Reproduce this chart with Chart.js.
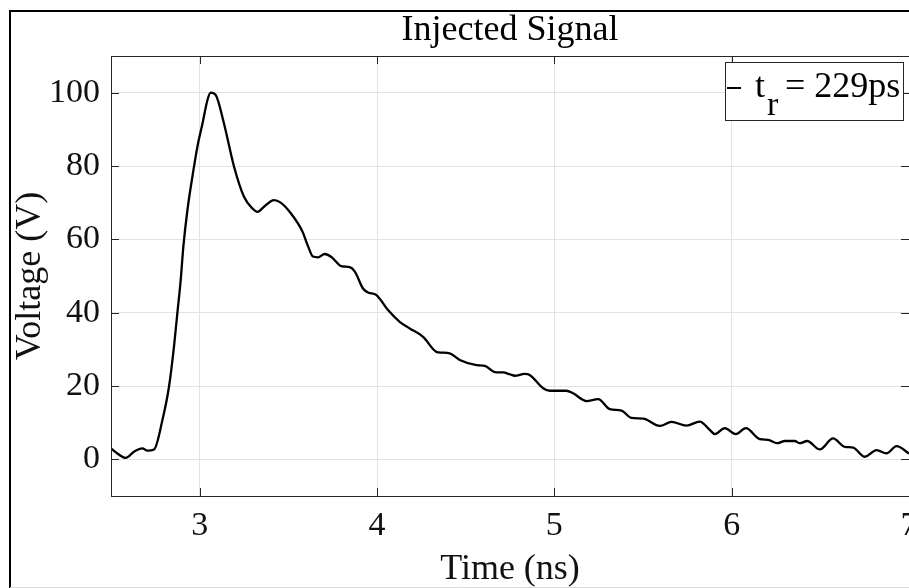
<!DOCTYPE html>
<html>
<head>
<meta charset="utf-8">
<title>Injected Signal</title>
<script src="https://cdn.jsdelivr.net/npm/chart.js@4.4.1/dist/chart.umd.min.js"></script>
<style>
    body { margin: 0; background: #fff; }
    #wrap { width: 909px; height: 588px; }
</style>
</head>
<body>
<div id="wrap"><canvas id="myChart" width="909" height="588"></canvas></div>
<script>
// values
var timeNs = [
    2.500, 2.536, 2.583, 2.630, 2.677, 2.705, 2.743, 2.790, 2.827, 2.855,
    2.874, 2.893, 2.908, 2.931, 2.959, 2.987, 3.016, 3.044, 3.062, 3.091,
    3.137, 3.194, 3.250, 3.298, 3.326, 3.363, 3.419, 3.457, 3.514, 3.580,
    3.612, 3.639, 3.668, 3.705, 3.743, 3.799, 3.846, 3.875, 3.921, 3.950,
    3.997, 4.062, 4.128, 4.185, 4.260, 4.335, 4.363, 4.410, 4.467, 4.561,
    4.608, 4.664, 4.711, 4.749, 4.777, 4.833, 4.861, 4.937, 4.974, 5.068,
    5.106, 5.181, 5.247, 5.313, 5.379, 5.435, 5.501, 5.595, 5.661, 5.745,
    5.820, 5.877, 5.905, 5.961, 6.023, 6.080, 6.159, 6.206, 6.256, 6.300,
    6.356, 6.384, 6.426, 6.497, 6.572, 6.638, 6.685, 6.751, 6.817, 6.873,
    6.930, 7.000
];
var voltage = [
    3.0, 1.6, 0.4, 2.1, 3.0, 2.4, 2.7, 10.7, 19.8, 30.7,
    39.8, 48.9, 58.0, 68.0, 77.1, 85.2, 91.6, 98.0, 100.0, 99.3,
    91.6, 79.8, 71.6, 68.4, 67.5, 68.9, 70.7, 70.0, 67.1, 62.1,
    58.0, 55.3, 55.1, 56.0, 55.2, 52.7, 52.4, 51.2, 46.6, 45.5,
    44.8, 40.7, 37.5, 35.7, 33.4, 29.3, 29.1, 28.9, 27.1, 25.7,
    25.5, 23.8, 23.7, 23.2, 22.8, 23.3, 23.0, 19.4, 18.7, 18.7,
    18.0, 15.9, 16.4, 13.7, 13.3, 11.3, 11.1, 9.1, 10.2, 9.2,
    10.3, 8.0, 6.9, 8.5, 6.9, 8.5, 5.5, 5.3, 4.4, 5.0,
    5.0, 4.4, 5.0, 2.7, 5.7, 3.4, 3.2, 0.7, 2.5, 1.6,
    3.6, 1.6
];
var xTicks = [3, 4, 5, 6, 7];
var yTicks = [0, 20, 40, 60, 80, 100];
var xRange = [2.5, 7];
var yRange = [-10, 110];
var riseTime = '229ps';

var serif = '"Liberation Serif", "Times New Roman", serif';
var axisColor = '#262626';
var textColor = '#111';

// box, inward ticks, outer frame and the t_r legend
var matlabFrame = {
    id: 'matlabFrame',
    afterDraw: function (chart) {
        var ctx = chart.ctx;
        var a = chart.chartArea;
        var xs = chart.scales.x;
        var ys = chart.scales.y;
        ctx.save();

        ctx.strokeStyle = axisColor;
        ctx.lineWidth = 1;
        ctx.beginPath();
        xTicks.forEach(function (v) {
            var px = Math.round(xs.getPixelForValue(v)) + 0.5;
            ctx.moveTo(px, a.top); ctx.lineTo(px, a.top + 8);
            ctx.moveTo(px, a.bottom); ctx.lineTo(px, a.bottom - 8);
        });
        yTicks.forEach(function (v) {
            var py = Math.round(ys.getPixelForValue(v)) + 0.5;
            ctx.moveTo(a.left, py); ctx.lineTo(a.left + 8, py);
            ctx.moveTo(a.right, py); ctx.lineTo(a.right - 8, py);
        });
        ctx.stroke();
        ctx.strokeRect(Math.round(a.left) + 0.5, Math.round(a.top) + 0.5,
            Math.round(a.right - a.left), Math.round(a.bottom - a.top));

        // outer figure frame
        ctx.strokeStyle = '#000';
        ctx.lineWidth = 2;
        ctx.beginPath();
        ctx.moveTo(10, 588); ctx.lineTo(10, 11); ctx.lineTo(909, 11);
        ctx.stroke();
        ctx.strokeStyle = '#d8d8d8';
        ctx.lineWidth = 1;
        ctx.beginPath();
        ctx.moveTo(10, 587.5); ctx.lineTo(909, 587.5);
        ctx.stroke();

        // legend
        ctx.fillStyle = '#fff';
        ctx.fillRect(725, 62, 178, 58);
        ctx.strokeStyle = axisColor;
        ctx.strokeRect(725.5, 62.5, 178, 58);
        ctx.strokeStyle = '#000';
        ctx.lineWidth = 2;
        ctx.beginPath();
        ctx.moveTo(727, 88); ctx.lineTo(741, 88);
        ctx.stroke();
        ctx.fillStyle = '#000';
        ctx.textBaseline = 'alphabetic';
        ctx.textAlign = 'left';
        ctx.font = '36px ' + serif;
        ctx.fillText('t', 755, 97);
        ctx.font = '34px ' + serif;
        ctx.fillText('r', 767, 115);
        ctx.font = '36px ' + serif;
        ctx.fillText('= ' + riseTime, 785, 97);

        ctx.restore();
    }
};

var points = timeNs.map(function (t, i) {
    return { x: t, y: voltage[i] };
});

var ctx = document.getElementById('myChart').getContext('2d');
var myChart = new Chart(ctx, {
    type: 'line',
    data: {
        datasets: [{
            label: 't_r = ' + riseTime,
            data: points,
            borderColor: '#000',
            borderWidth: 2.3,
            pointRadius: 0,
            fill: false,
            cubicInterpolationMode: 'monotone'
        }]
    },
    options: {
        responsive: false,
        animation: false,
        layout: { padding: 0 },
        plugins: {
            legend: { display: false },
            tooltip: { enabled: false },
            title: {
                display: true,
                text: 'Injected Signal',
                fullSize: false,
                color: '#000',
                font: { family: serif, size: 36, weight: 'normal', lineHeight: 1.2 },
                padding: { top: 9, bottom: 3.8 }
            }
        },
        scales: {
            x: {
                type: 'linear',
                min: xRange[0],
                max: xRange[1],
                afterBuildTicks: function (scale) {
                    scale.ticks = xTicks.map(function (v) { return { value: v }; });
                },
                afterFit: function (scale) {
                    scale.height = 92;
                    scale.paddingLeft = 0;
                    scale.paddingRight = 0;
                },
                grid: { color: '#e3e3e3', drawTicks: false },
                border: { display: false },
                ticks: {
                    color: textColor,
                    padding: 10,
                    maxRotation: 0,
                    autoSkip: false,
                    font: { family: serif, size: 34 }
                },
                title: {
                    display: true,
                    text: 'Time (ns)',
                    color: textColor,
                    font: { family: serif, size: 36, lineHeight: 1 },
                    padding: { top: 0, bottom: 0 }
                }
            },
            y: {
                min: yRange[0],
                max: yRange[1],
                afterBuildTicks: function (scale) {
                    scale.ticks = yTicks.map(function (v) { return { value: v }; });
                },
                afterFit: function (scale) {
                    scale.width = 111;
                    scale.paddingTop = 0;
                    scale.paddingBottom = 0;
                },
                grid: { color: '#e3e3e3', drawTicks: false },
                border: { display: false },
                ticks: {
                    color: textColor,
                    padding: 11,
                    autoSkip: false,
                    font: { family: serif, size: 34 }
                },
                title: {
                    display: true,
                    text: 'Voltage (V)',
                    color: textColor,
                    font: { family: serif, size: 36, lineHeight: 1 },
                    padding: { top: 13, bottom: 0 }
                }
            }
        }
    },
    plugins: [matlabFrame]
});
</script>
</body>
</html>
